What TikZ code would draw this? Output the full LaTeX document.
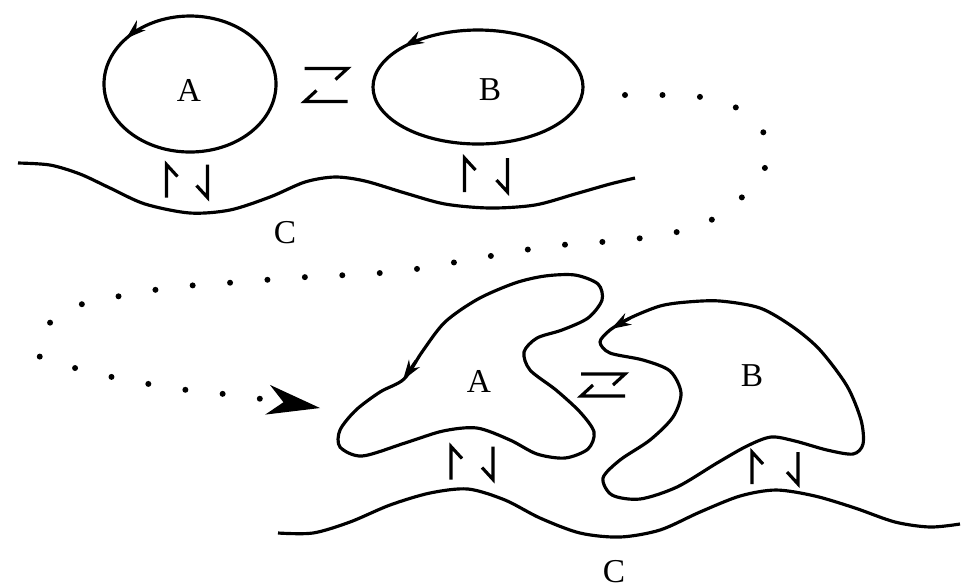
\documentclass[tikz,border=0pt]{standalone}
\usepackage{fontspec}
\setmainfont{Liberation Serif}
\usetikzlibrary{arrows.meta,decorations.markings}
\tikzset{
  pics/harp/.style 2 args={code={
    \draw (-#1,-#2) -- (#1,-#2) -- ++(-12,11);
    \draw (#1,#2) -- (-#1,#2) -- ++(12,-11);
  }},
}
\begin{document}
\begin{tikzpicture}[x=0.1mm, y=-0.1mm, line width=0.9pt,
    every node/.style={inner sep=0pt, font=\fontsize{9.5}{11}\selectfont},
    smalltip/.style={-{Stealth[length=2mm,width=1.3mm]}},
    flowmark/.style={postaction={decorate}, decoration={markings,
        mark=at position #1 with {\arrow{Stealth[length=2mm,width=1.3mm]}}}},
    dotline/.style={line width=1.7pt, line cap=round, dash pattern=on 0pt off 3.75mm}]
  \useasboundingbox (0,0) rectangle (964,587);
  % before
  \draw[flowmark=0.5] (190,84) ++(42:86 and 68) arc[start angle=42, end angle=-318, x radius=86, y radius=68];
  \draw[flowmark=0.5] (478,87) ++(45:105 and 57) arc[start angle=45, end angle=-315, x radius=105, y radius=57];
  \node (A1) at (189,90) {A};
  \node (B1) at (490,90) {B};
  \node (C1) at (285,233) {C};
  \draw plot[smooth] coordinates {(18,163) (50,165) (80,174) (110,188) (145,204) (190,213) (230,210)
    (270,197) (305,182) (335,177) (365,181) (405,193) (445,204) (490,208) (535,205) (575,194) (610,184) (635,178)};
  \pic at (326,85) {harp={21.5}{16.5}};
  \pic[rotate=90] at (187,181) {harp={16.5}{20.5}};
  \pic[rotate=90] at (486,175) {harp={17}{21.5}};
  % dotted way down
  \coordinate (dstart) at (625,95);
  \coordinate (dend) at (320,408);
  \draw[dotline, -{Stealth[length=5.3mm, width=3mm, inset=1.6mm, line width=0.4pt]}]
    plot[smooth] coordinates {(dstart) (663,95) (701,97) (737,108) (762,130) (769,158) (753,185)
    (730,208) (699,226) (662,235) (625,240) (588,243) (551,246) (513,252) (474,259) (439,265)
    (403,271) (365,274) (327,276) (290,278) (252,281) (213,284) (174,287) (137,293) (100,300)
    (65,310) (43,332) (40,357) (75,368) (112,377) (149,384) (187,390) (224,394) (262,399) (dend)};
  % after
  \draw plot[smooth cycle] coordinates {(422,352) (404,379) (380,392) (356,410)
    (340,430) (340,447) (362,456) (405,443) (443,431) (477,428) (510,440) (537,454) (565,458)
    (588,449) (594,432) (580,412) (556,390) (530,370) (524,352) (537,338) (562,330) (588,318)
    (602,300) (598,284) (575,275) (545,276) (515,283) (478,299) (445,322)};
  \draw[smalltip] (416,361) -- (403,380);
  \draw plot[smooth cycle] coordinates {(660,306) (630,318) (610,330) (600,342)
    (610,353) (643,360) (670,371) (681,393) (673,417) (650,440) (620,460) (603,478) (612,495)
    (640,499) (677,487) (717,463) (747,446) (771,437) (795,441) (827,450) (853,454) (863,444)
    (861,420) (847,386) (820,350) (793,327) (760,308) (720,301) (687,302)};
  \draw[smalltip] (630,318) -- (611,329);
  \node (A2) at (479,381) {A};
  \node (B2) at (752,376) {B};
  \node (C2) at (614,572) {C};
  \draw plot[smooth] coordinates {(278,533) (313,533) (350,522) (390,505) (430,493) (468,489)
    (505,500) (540,518) (580,533) (620,537) (660,530) (700,512) (740,496) (776,490) (815,496)
    (855,508) (895,522) (930,527) (960,524)};
  \pic at (603,385) {harp={22}{11}};
  \pic[rotate=90] at (472,463) {harp={16.5}{21}};
  \pic[rotate=90] at (775,468) {harp={16}{23}};
\end{tikzpicture}
\end{document}
